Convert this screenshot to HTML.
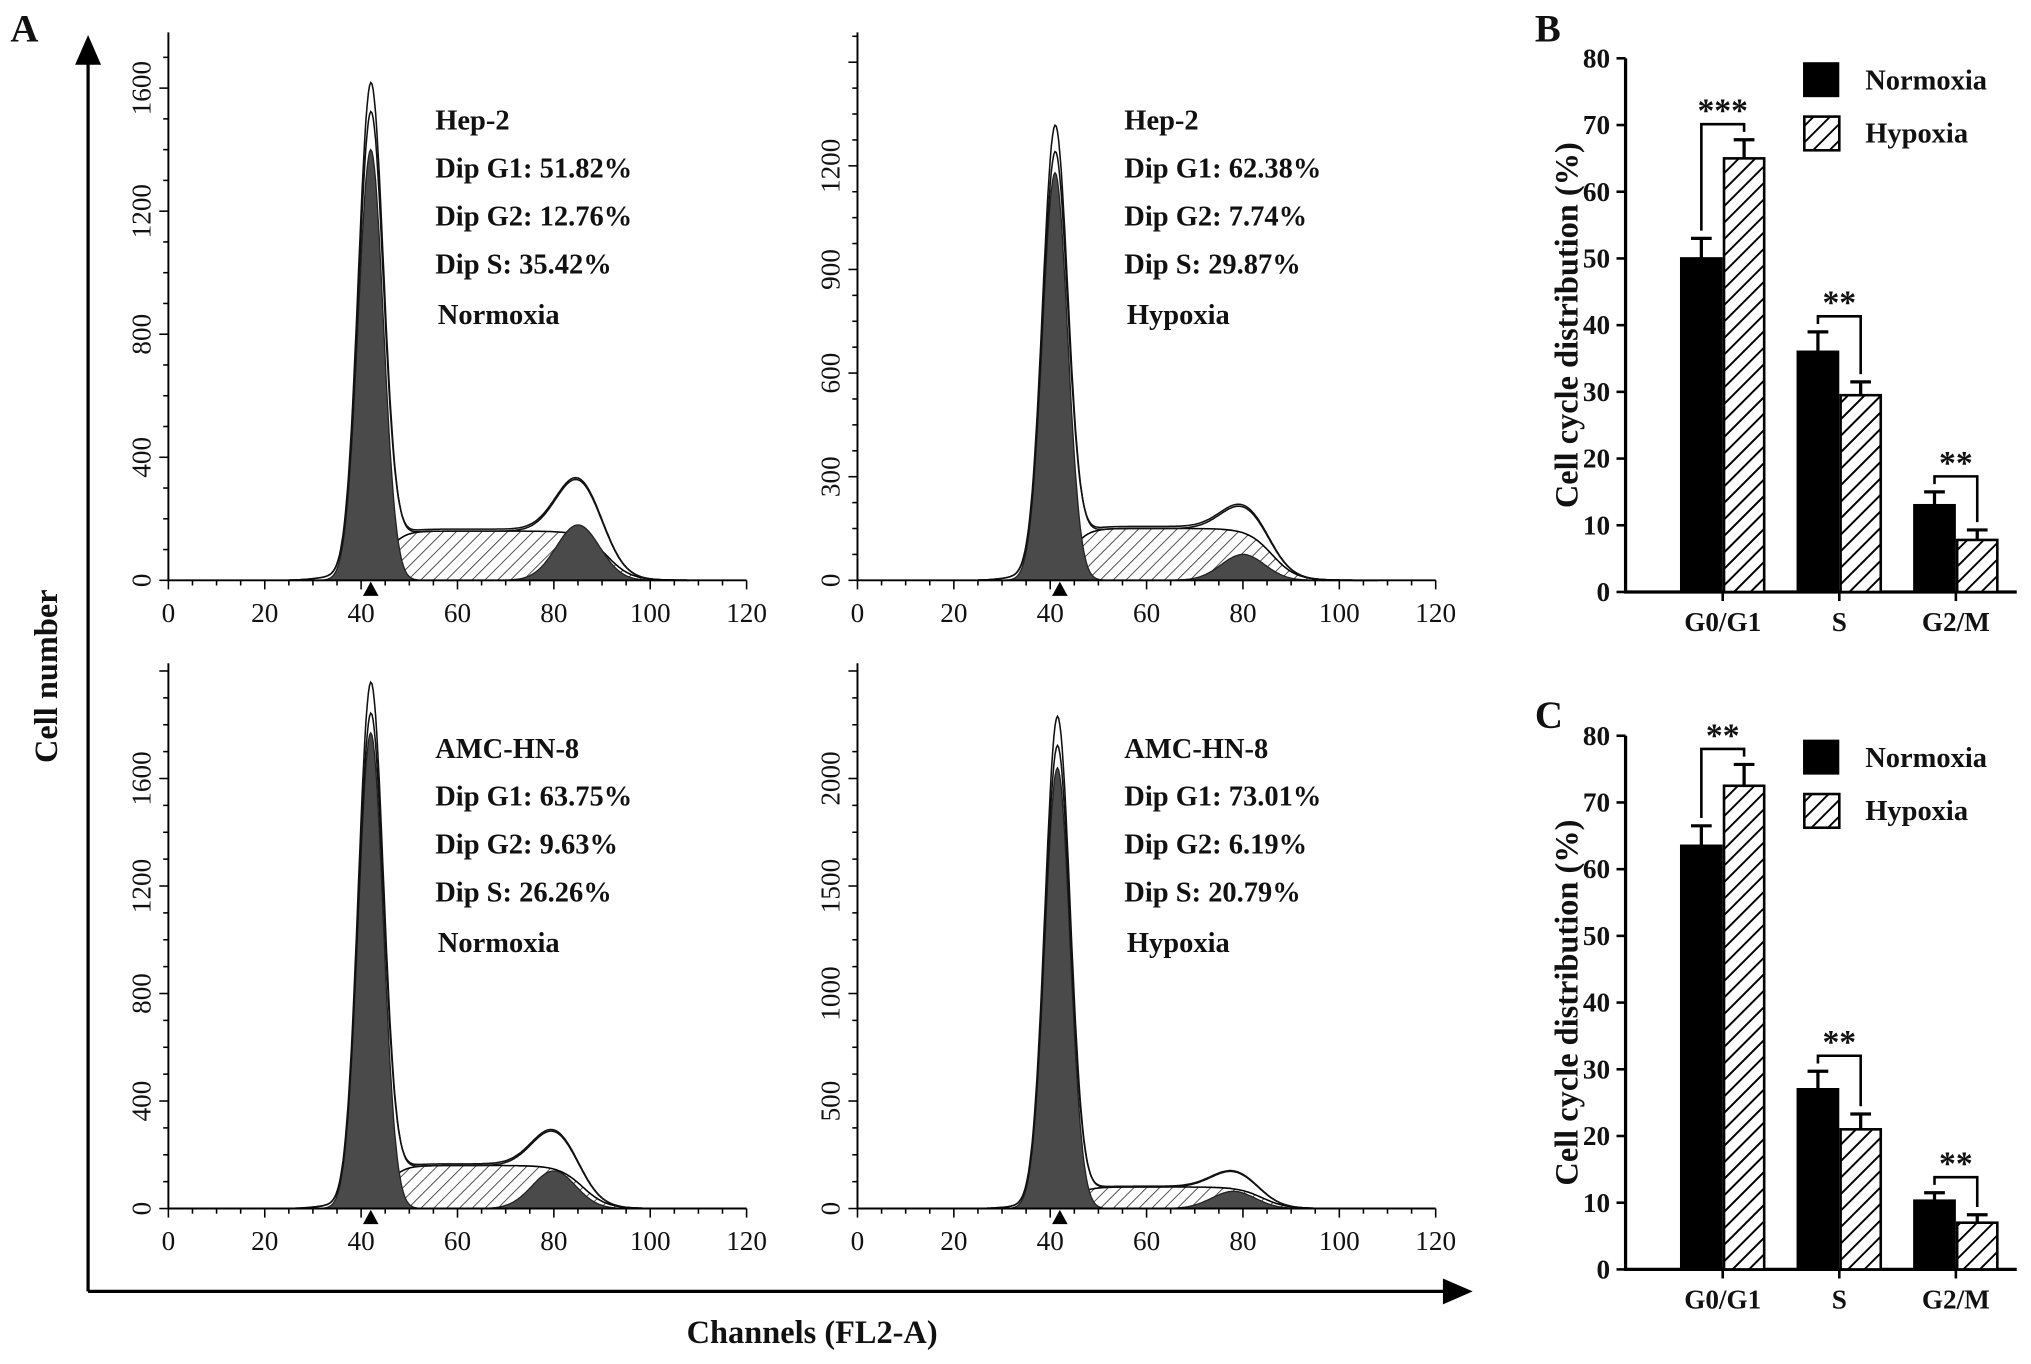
<!DOCTYPE html>
<html><head><meta charset="utf-8"><style>
html,body{margin:0;padding:0;background:#fff}
svg{display:block}
text{font-family:"Liberation Serif",serif;fill:#111}
</style></head><body>
<svg id="fig" width="2031" height="1364" viewBox="0 0 1568 1053" xmlns="http://www.w3.org/2000/svg">
<defs>
<pattern id="hatchS" patternUnits="userSpaceOnUse" width="7" height="7" patternTransform="rotate(45)"><rect width="7" height="7" fill="#fff"/><line x1="0" y1="0" x2="0" y2="7" stroke="#333" stroke-width="1.3"/></pattern>
<pattern id="hatchB" patternUnits="userSpaceOnUse" width="9" height="9" patternTransform="rotate(45)"><rect width="9" height="9" fill="#fff"/><line x1="0" y1="0" x2="0" y2="9" stroke="#000" stroke-width="3"/></pattern>
</defs>
<g id="root"></g>
</svg>
<script>
// ---------- Histogram data ----------
const histNames = ["hep2-normoxia","hep2-hypoxia","amc-normoxia","amc-hypoxia"];
const g1Peaks = [1400, 1180, 1770, 2050];
const envPeaks = [1590, 1290, 1930, 2270];
const g1Means = [42, 41, 42, 41.5];
const sPlateaus = [160, 150, 160, 100];
const g2Peaks = [180, 75, 140, 80];
const g2Means = [85, 80, 80, 78];
const envG2Peaks = [300, 180, 240, 140];
const yTickSets = [[0,400,800,1200,1600],[0,300,600,900,1200],[0,400,800,1200,1600],[0,500,1000,1500,2000]];
const xTicks = [0,20,40,60,80,100,120];
const labelLines = [
 ["Hep-2","Dip G1: 51.82%","Dip G2: 12.76%","Dip S: 35.42%","Normoxia"],
 ["Hep-2","Dip G1: 62.38%","Dip G2: 7.74%","Dip S: 29.87%","Hypoxia"],
 ["AMC-HN-8","Dip G1: 63.75%","Dip G2: 9.63%","Dip S: 26.26%","Normoxia"],
 ["AMC-HN-8","Dip G1: 73.01%","Dip G2: 6.19%","Dip S: 20.79%","Hypoxia"]];

// ---------- Bar chart data ----------
const barCats = ["G0/G1","S","G2/M"];
const normB = [50, 36, 13];
const normBErr = [3, 3, 2];
const hypB = [65, 29.5, 7.8];
const hypBErr = [2.8, 2, 1.5];
const sigB = ["***","**","**"];
const normC = [63.5, 27, 10.3];
const normCErr = [3, 2.7, 1.2];
const hypC = [72.5, 21, 7];
const hypCErr = [3.2, 2.3, 1.2];
const sigC = ["**","**","**"];
const barTicks = [0,10,20,30,40,50,60,70,80];

const NS="http://www.w3.org/2000/svg";
const root=document.getElementById('root');
function el(tag,attrs,parent,txt){const e=document.createElementNS(NS,tag);for(const k in attrs)e.setAttribute(k,attrs[k]);if(txt!==undefined)e.textContent=txt;(parent||root).appendChild(e);return e;}

let t=el('text',{x:8,y:32,'font-size':30,'font-weight':'bold'},root,'A');

let ax=el('path',{d:'M68,997 V40 M68,997 H1122',stroke:'#000','stroke-width':2.5,fill:'none'});

el('path',{d:'M58,50 L68,27 L78,50 Z',fill:'#000'});
el('path',{d:'M1114,987 L1137,997 L1114,1007 Z',fill:'#000'});
t=el('text',{x:0,y:0,'font-size':25,'font-weight':'bold','text-anchor':'middle',transform:'translate(44,522) rotate(-90)'},root,'Cell number');

t=el('text',{x:627,y:1037,'font-size':25,'font-weight':'bold','text-anchor':'middle'},root,'Channels (FL2-A)');


const panels=[{x0:130,y0:448,yTop:25},{x0:662,y0:448,yTop:25},{x0:130,y0:933,yTop:512},{x0:662,y0:933,yTop:512}];
const yPx=[95/400,80/300,83/400,83/500];
function gauss(x,m,s){return Math.exp(-0.5*((x-m)/s)**2);}
function sig(z){return 1/(1+Math.exp(-z));}

panels.forEach((p,i)=>{
 const g=el('g',{});
 
 const X=c=>p.x0+c*3.72, Y=v=>p.y0-v*yPx[i];
 const xs=[];for(let c=25;c<=108;c+=0.25)xs.push(c);
 const g1=c=>g1Peaks[i]*gauss(c,g1Means[i],2.6);
 const sF=c=>sPlateaus[i]*sig((c-g1Means[i]-3)/1.8)*sig((g2Means[i]+6-c)/2.5);
 const g2=c=>g2Peaks[i]*gauss(c,g2Means[i],4.5);
 const path=f=>{let d='M'+X(xs[0])+','+Y(0);xs.forEach(c=>d+=' L'+X(c).toFixed(1)+','+Y(f(c)).toFixed(1));return d+' L'+X(xs[xs.length-1])+','+Y(0)+' Z';};
 let s=el('path',{d:path(sF),fill:'url(#hatchS)',stroke:'#000','stroke-width':1.2},g);
 
 s=el('path',{d:path(g1),fill:'#4a4a4a',stroke:'#222','stroke-width':1},g);
 
 s=el('path',{d:path(g2),fill:'#4a4a4a',stroke:'#222','stroke-width':1},g);
 
 const extra=envG2Peaks[i]-g2Peaks[i]-sPlateaus[i];
 [[1,1],[1.06,0.8]].forEach(([k,kk],j)=>{
  const env=c=>g1(c)*(envPeaks[i]/g1Peaks[i])*(j?0.94:1)+sF(c)*(j?1.04:1)+g2(c)+Math.max(extra,0)*kk*gauss(c,g2Means[i]-4,7)+12*gauss(c,35,4);
  let d='';xs.forEach((c,n)=>d+=(n?' L':'M')+X(c).toFixed(1)+','+Y(env(c)).toFixed(1));
  const l=el('path',{d:d,fill:'none',stroke:'#111','stroke-width':1.2},g);
  
 });
 el('path',{d:`M${p.x0},${p.yTop} V${p.y0} H${X(120)}`,stroke:'#000','stroke-width':1.5,fill:'none'},g);
 for(let c=0;c<=120;c+=5){el('line',{x1:X(c),x2:X(c),y1:p.y0,y2:p.y0+(c%20===0?7:4),stroke:'#000','stroke-width':1.2},g);}
 xTicks.forEach(v=>{const tt=el('text',{x:X(v),y:p.y0+32,'font-size':21,'text-anchor':'middle'},g,v);});
 const yt=yTickSets[i], step=(yt[1]-yt[0])/4;
 for(let v=0;Y(v)>=p.yTop;v+=step){el('line',{x1:p.x0,x2:p.x0-(v%(yt[1])===0?7:4),y1:Y(v),y2:Y(v),stroke:'#000','stroke-width':1.2},g);}
 yt.forEach(v=>{const tt=el('text',{x:0,y:0,'font-size':21,'text-anchor':'middle',transform:`translate(${p.x0-14},${Y(v)}) rotate(-90)`},g,v);});
 el('path',{d:`M${X(42)-6},${p.y0+12} L${X(42)},${p.y0+1} L${X(42)+6},${p.y0+12} Z`,fill:'#000'},g);
 labelLines[i].forEach((txt,n)=>{const tt=el('text',{x:p.x0+206+(n===4?2:0),y:p.y0-348+[0,37,74,111,150][n],'font-size':22,'font-weight':'bold'},g,txt);});
});

function barChart(name,letter,ly,y0,norm,nErr,hyp,hErr,sigs){
 const g=el('g',{});
 const x0=1255; const Y=v=>y0-v*5.15;
 let tt=el('text',{x:1185,y:ly,'font-size':30,'font-weight':'bold'},g,letter);
 el('path',{d:`M${x0},${Y(80)} V${y0} H1557`,stroke:'#000','stroke-width':2.5,fill:'none'},g);
 barTicks.forEach(v=>{el('line',{x1:x0-7,x2:x0,y1:Y(v),y2:Y(v),stroke:'#000','stroke-width':2},g);
  const l=el('text',{x:x0-12,y:Y(v)+7,'font-size':21,'text-anchor':'end','font-weight':'bold'},g,v);});
 tt=el('text',{x:0,y:0,'font-size':25,'text-anchor':'middle','font-weight':'bold',transform:`translate(1218,${Y(40)}) rotate(-90)`},g,'Cell cycle distribution (%)');
 
 barCats.forEach((c,k)=>{
  const cx=1330+k*90;
  el('line',{x1:cx,x2:cx,y1:y0,y2:y0+7,stroke:'#000','stroke-width':2},g);
  const l=el('text',{x:cx,y:y0+30,'font-size':21,'text-anchor':'middle','font-weight':'bold'},g,c);
  const bw=31;
  [[cx-bw/2-1,norm[k],nErr[k]],[cx+bw/2+1,hyp[k],hErr[k]]].forEach(([bx,v,e])=>{
   el('path',{d:`M${bx},${Y(v)} V${Y(v+e)} M${bx-8},${Y(v+e)} H${bx+8}`,stroke:'#000','stroke-width':2.5,fill:'none'},g);});
  let b=el('rect',{x:cx-bw-1,y:Y(norm[k]),width:bw,height:y0-Y(norm[k]),fill:'#000',stroke:'#000','stroke-width':2},g);
  
  b=el('rect',{x:cx+1,y:Y(hyp[k]),width:bw,height:y0-Y(hyp[k]),fill:'url(#hatchB)',stroke:'#000','stroke-width':2},g);
  
  const top=Math.max(norm[k]+nErr[k],hyp[k]+hErr[k]);
  const by=Y(top)-12, lx=cx-bw/2-1, rx=cx+bw/2+1;
  const br=el('path',{d:`M${lx},${Y(norm[k]+nErr[k])-6} V${by} H${rx} V${Y(hyp[k]+hErr[k])-6}`,stroke:'#000','stroke-width':2,fill:'none'},g);
  
  const st=el('text',{x:cx,y:by-2,'font-size':26,'font-weight':'bold','text-anchor':'middle','font-family':'Liberation Sans, sans-serif'},g,sigs[k]);
  
 });
 const ly0=Y(80)+3;
 let r=el('rect',{x:1392,y:ly0,width:28,height:27,fill:'#000'},g);
 tt=el('text',{x:1440,y:ly0+21,'font-size':22,'font-weight':'bold'},g,'Normoxia');
 r=el('rect',{x:1393,y:ly0+42,width:27,height:26,fill:'url(#hatchB)',stroke:'#000','stroke-width':2},g);
 tt=el('text',{x:1440,y:ly0+62,'font-size':22,'font-weight':'bold'},g,'Hypoxia');
}
barChart('bar-chart-b','B',32,457,normB,normBErr,hypB,hypBErr,sigB);
barChart('bar-chart-c','C',562,980,normC,normCErr,hypC,hypCErr,sigC);
</script>
</body></html>
